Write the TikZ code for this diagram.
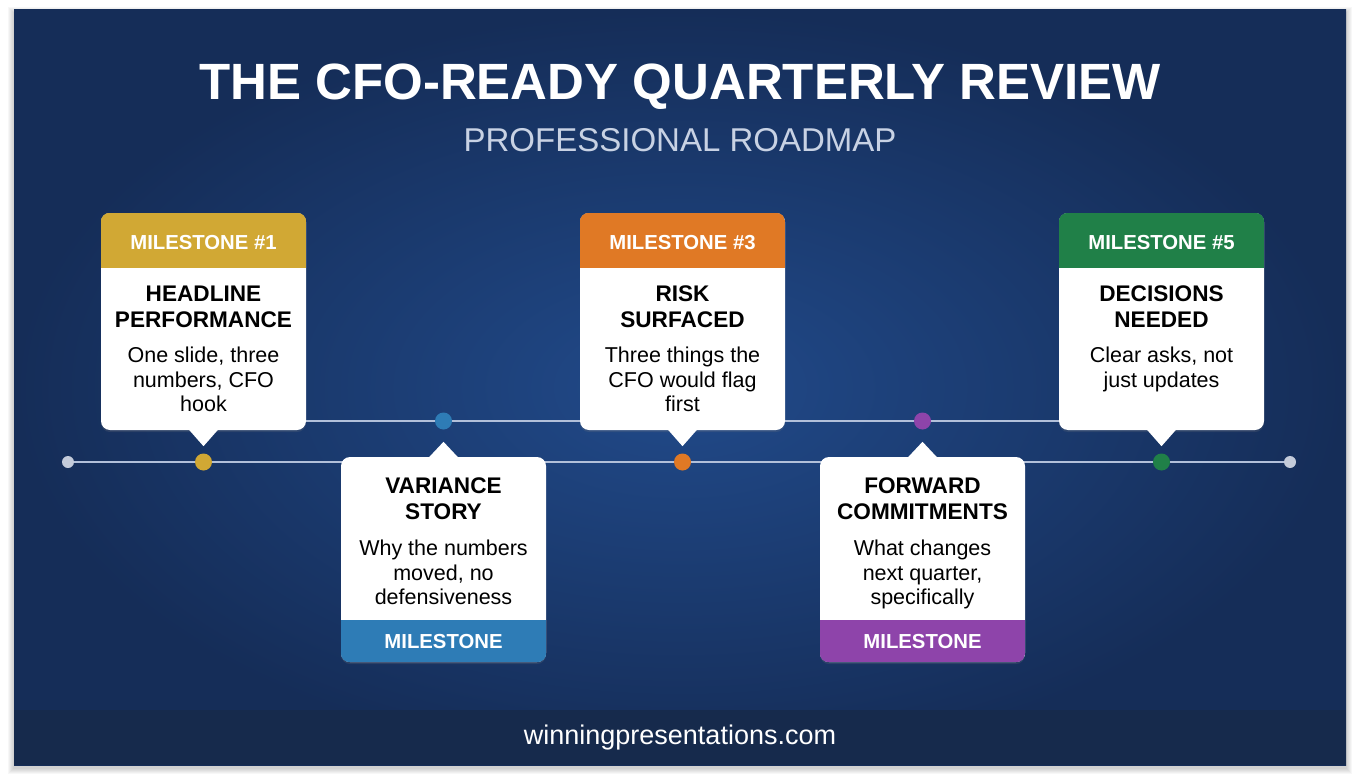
\documentclass[tikz,border=0pt]{standalone}
\usepackage{fontspec}
\setmainfont{Liberation Sans}
\usetikzlibrary{shadows,positioning}

\definecolor{bgedge}{RGB}{21,45,88}
\definecolor{bgmid}{RGB}{33,74,138}
\definecolor{footband}{RGB}{22,42,76}
\definecolor{tline}{RGB}{178,192,218}
\definecolor{enddot}{RGB}{196,203,218}
\definecolor{subgrey}{RGB}{200,210,228}
\definecolor{msgold}{RGB}{209,168,52}
\definecolor{msblue}{RGB}{46,124,182}
\definecolor{msorange}{RGB}{224,121,37}
\definecolor{mspurple}{RGB}{142,68,170}
\definecolor{msgreen}{RGB}{32,128,72}

\tikzset{
  card/.style={fill=white, rounded corners=9pt, minimum width=205pt, inner sep=0pt,
    drop shadow={shadow xshift=0pt, shadow yshift=-2pt, opacity=0.2}},
  headlbl/.style={white, font=\fontsize{20.3}{24}\selectfont\bfseries},
  cardttl/.style={anchor=north, align=center, inner sep=0pt, font=\fontsize{22.6}{26}\selectfont\bfseries},
  cardtxt/.style={anchor=north, align=center, inner sep=0pt, font=\fontsize{21.5}{24.5}\selectfont},
  dot/.style={circle, minimum size=17pt, inner sep=0pt},
  endpt/.style={circle, fill=enddot, minimum size=12pt, inner sep=0pt},
  tl/.style={tline, line width=2pt}
}

\begin{document}
\begin{tikzpicture}[x=1pt,y=-1pt]
  % page and panel
  \fill[white] (0,0) rectangle (1360,784);
  \foreach \s in {1,...,6}
    \fill[black, opacity=0.03] (14-\s,10-\s+3) rectangle (1346+\s,765+\s+3);
  \shade[inner color=bgmid, outer color=bgedge] (14,10) rectangle (1346,765);
  \fill[footband] (14,710) rectangle (1346,765);

  % titles
  \node[white, font=\fontsize{51}{56}\selectfont\bfseries] (title) at (680,87) {THE CFO-READY QUARTERLY REVIEW};
  \node[subgrey, font=\fontsize{33}{36}\selectfont] (subtitle) at (680,140) {PROFESSIONAL ROADMAP};
  \node[white, font=\fontsize{27}{30}\selectfont] (site) at (680,738) {winningpresentations.com};

  % timeline
  \node[endpt] (e0) at (68,462) {};
  \node[endpt] (e1) at (1290,462) {};
  \draw[tl] (e0) -- (e1);
  \coordinate (u0) at (300,421);
  \coordinate (u1) at (1065,421);
  \draw[tl] (u0) -- (u1);

  % upper cards
  \foreach \n/\x/\col/\head/\ttl/\txt in {
      1/203.5/msgold/{MILESTONE \#1}/{HEADLINE\\PERFORMANCE}/{One slide, three\\numbers, CFO\\hook},
      3/682.5/msorange/{MILESTONE \#3}/{RISK\\SURFACED}/{Three things the\\CFO would flag\\first},
      5/1161.5/msgreen/{MILESTONE \#5}/{DECISIONS\\NEEDED}/{Clear asks, not\\just updates}}{
    \node[dot, fill=\col] (d\n) at (\x,462) {};
    \node[card, minimum height=217pt] (c\n) at (\x,321.5) {};
    \begin{scope}
      \clip[rounded corners=9pt] (c\n.south west) rectangle (c\n.north east);
      \fill[\col] (c\n.north west) rectangle ([yshift=-55pt]c\n.north east);
    \end{scope}
    \fill[white] ([xshift=-15pt,yshift=1pt]c\n.south) -- ([yshift=-16pt]c\n.south) -- ([xshift=15pt,yshift=1pt]c\n.south) -- cycle;
    \node[headlbl] (h\n) at ([yshift=-30pt]c\n.north) {\head};
    \node[cardttl] (t\n) at ([yshift=-73pt]c\n.north) {\ttl};
    \node[cardtxt] (b\n) at ([yshift=-134pt]c\n.north) {\txt};
  }

  % lower cards
  \foreach \n/\x/\col/\ttl/\txt in {
      2/443.5/msblue/{VARIANCE\\STORY}/{Why the numbers\\moved, no\\defensiveness},
      4/922.5/mspurple/{FORWARD\\COMMITMENTS}/{What changes\\next quarter,\\specifically}}{
    \node[dot, fill=\col] (d\n) at (\x,421) {};
    \node[card, minimum height=205pt] (c\n) at (\x,559.5) {};
    \begin{scope}
      \clip[rounded corners=9pt] (c\n.south west) rectangle (c\n.north east);
      \fill[\col] ([yshift=42pt]c\n.south west) rectangle (c\n.south east);
    \end{scope}
    \fill[white] ([xshift=-15pt,yshift=-1pt]c\n.north) -- ([yshift=15pt]c\n.north) -- ([xshift=15pt,yshift=-1pt]c\n.north) -- cycle;
    \node[headlbl] (h\n) at ([yshift=21pt]c\n.south) {MILESTONE};
    \node[cardttl] (t\n) at ([yshift=-21pt]c\n.north) {\ttl};
    \node[cardtxt] (b\n) at ([yshift=-83pt]c\n.north) {\txt};
  }
\end{tikzpicture}
\end{document}
